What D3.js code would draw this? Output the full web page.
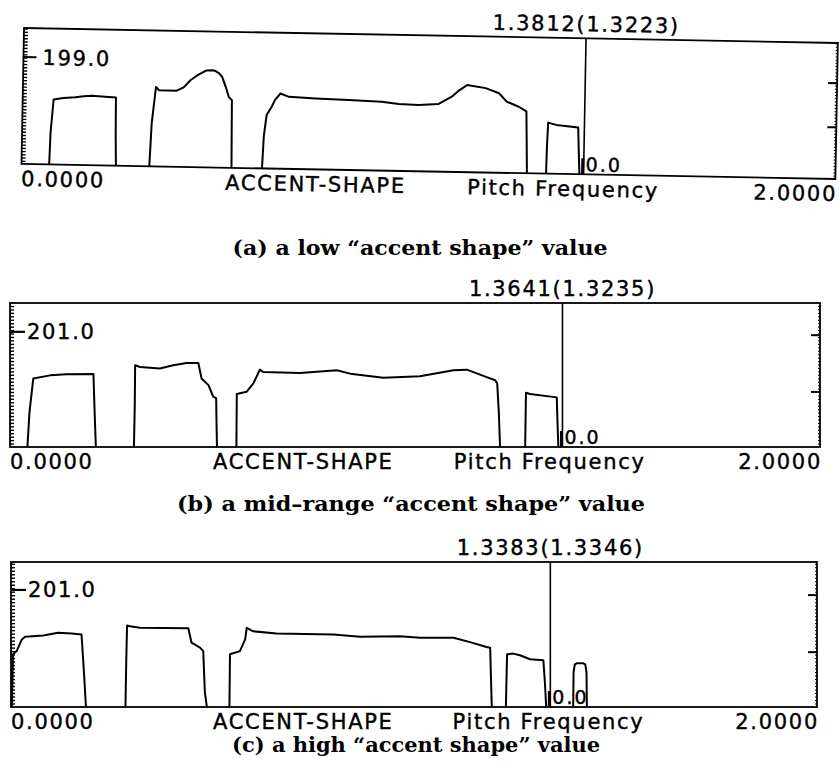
<!DOCTYPE html>
<html><head><meta charset="utf-8">
<script src="https://cdn.jsdelivr.net/npm/d3@7"></script>
<style>body{margin:0;background:#fff}</style>
</head><body><svg id="chart" width="839" height="769"></svg>
<script>
// ---------- data ----------
const xDomain = [0, 2];
const xTickLabels = ["0.0000", "2.0000"];
const axisTitles = ["ACCENT-SHAPE", "Pitch Frequency"];
const captions = [
  "(a) a low \u201Caccent shape\u201D value",
  "(b) a mid\u2013range \u201Caccent shape\u201D value",
  "(c) a high \u201Caccent shape\u201D value"
];
const cursorValues = [1.3812, 1.3641, 1.3383];
const cursorRefValues = [1.3223, 1.3235, 1.3346];
const yLabelValues = [199.0, 201.0, 201.0];
const yMaxValues = [253, 251.3, 249];
const rightTickValues = [[97, 179], [97, 196], [95, 193]];
const zeroLabel = "0.0";

const contourA = [
  [[0.068,0],[0.070,60],[0.076,121],[0.100,124],[0.129,126],[0.150,128],[0.170,129.5],[0.203,128],[0.229,127],[0.230,60],[0.232,0]],
  [[0.314,0],[0.318,80],[0.327,148],[0.334,142],[0.378,141.6],[0.395,148],[0.412,162],[0.430,172],[0.449,180],[0.465,181],[0.473,179.5],[0.482,175],[0.489,169],[0.498,151],[0.506,132],[0.514,126],[0.515,60],[0.516,0]],
  [[0.591,0],[0.594,60],[0.600,99.5],[0.612,115],[0.620,128],[0.633,140],[0.654,134],[0.719,132],[0.801,130],[0.882,128],[0.924,124.6],[0.973,123.5],[1.022,126],[1.054,140],[1.072,152],[1.091,162],[1.137,157],[1.170,148],[1.189,132.6],[1.219,123.5],[1.238,115],[1.240,60],[1.242,0]],
  [[1.289,0],[1.290,50],[1.292,95],[1.312,91],[1.366,87],[1.368,50],[1.371,0]]
];
const contourB = [
  [[0.043,0],[0.048,60],[0.0575,119.6],[0.099,125],[0.140,127],[0.206,127.5],[0.209,60],[0.212,0]],
  [[0.306,0],[0.308,70],[0.309,142.6],[0.321,139.7],[0.370,137],[0.403,142.6],[0.436,146.6],[0.465,146.6],[0.473,119.6],[0.490,108],[0.502,87.7],[0.509,85.4],[0.510,40],[0.511,0]],
  [[0.559,0],[0.560,92.4],[0.584,96.4],[0.601,111],[0.617,135],[0.625,131],[0.716,129],[0.807,134],[0.840,128],[0.922,121],[1.012,123.6],[1.095,134],[1.128,135],[1.177,122],[1.198,116.6],[1.203,111],[1.207,60],[1.210,0]],
  [[1.272,0],[1.274,94.6],[1.284,92.4],[1.350,86.6],[1.352,40],[1.354,0]]
];
const contourC = [
  [[0.002,0],[0.004,60],[0.005,90.5],[0.014,96],[0.027,116],[0.035,120.6],[0.080,122.8],[0.117,127.4],[0.151,126.2],[0.175,124.5],[0.181,60],[0.186,0]],
  [[0.284,0],[0.286,80],[0.288,139.8],[0.295,138.6],[0.320,135.9],[0.440,135.2],[0.448,110.4],[0.469,101.9],[0.477,96],[0.481,26],[0.486,0]],
  [[0.542,0],[0.5434,90.5],[0.568,96],[0.581,116],[0.585,135.9],[0.601,130],[0.659,126.2],[0.800,124.5],[0.866,120.6],[0.965,121.6],[1.015,118.9],[1.098,118.9],[1.139,111.4],[1.180,102.9],[1.189,101.9],[1.191,50],[1.193,0]],
  [[1.228,0],[1.231,90.5],[1.246,91.7],[1.263,88.8],[1.288,82],[1.321,80.3],[1.325,40],[1.328,0]],
  [[1.395,0],[1.396,60],[1.399,73],[1.404,75],[1.420,75],[1.425,73],[1.428,60],[1.429,0]]
];
const contours = [contourA, contourB, contourC];

// ---------- layout ----------
const layout = [
  {x:24, y:28,  w:814, h:136, rot:1.056, capX:420, capY:255, capW:375},
  {x:10, y:303, w:810, h:144, rot:0,     capX:411, capY:511, capW:468},
  {x:11, y:562, w:806, h:145, rot:0,     capX:416, capY:752, capW:368}
];
const sans = "'DejaVu Sans', sans-serif";
const svg = d3.select("#chart");

layout.forEach((L, i) => {
  const g = svg.append("g")
    .attr("transform", `translate(${L.x},${L.y}) rotate(${L.rot})`);
  const x = d3.scaleLinear().domain(xDomain).range([0, L.w]);
  const y = d3.scaleLinear().domain([0, yMaxValues[i]]).range([L.h, 0]);

  // frame
  g.append("rect").attr("width", L.w).attr("height", L.h)
    .attr("fill", "none").attr("stroke", "#000").attr("stroke-width", 1.8);

  // left minor ticks (ruler)
  const minor = d3.range(6, yMaxValues[i], 6);
  const leftAx = d3.axisRight(y).tickValues(minor).tickSize(4).tickFormat("");
  g.append("g").call(leftAx).call(s => s.select(".domain").remove())
    .selectAll("line").attr("stroke-width", 1.4);
  // right minor ticks
  const rightAx = d3.axisLeft(y).tickValues(minor).tickSize(2).tickFormat("");
  g.append("g").attr("transform", `translate(${L.w},0)`).call(rightAx)
    .call(s => s.select(".domain").remove()).selectAll("line").attr("stroke-width", 1);
  // right major ticks
  const rightMaj = d3.axisLeft(y).tickValues(rightTickValues[i]).tickSize(9).tickFormat("");
  g.append("g").attr("transform", `translate(${L.w},0)`).call(rightMaj)
    .call(s => s.select(".domain").remove()).selectAll("line").attr("stroke-width", 2);

  // labelled y tick
  const yl = y(yLabelValues[i]);
  g.append("line").attr("x1", 0).attr("x2", i === 0 ? 13 : 15)
    .attr("y1", yl).attr("y2", yl).attr("stroke", "#000").attr("stroke-width", 2.2);
  g.append("text").attr("x", i === 0 ? 19 : 17).attr("y", yl + 7.5)
    .attr("font-family", sans).attr("font-size", 21).attr("letter-spacing", 1.7)
    .attr("stroke", "#000").attr("stroke-width", 0.4)
    .text(yLabelValues[i].toFixed(1));

  // contour
  const line = d3.line().x(d => x(d[0])).y(d => y(d[1]));
  g.selectAll("path.contour").data(contours[i]).join("path")
    .attr("class", "contour").attr("d", line)
    .attr("fill", "none").attr("stroke", "#000").attr("stroke-width", 2)
    .attr("stroke-linejoin", "round");

  // cursor
  const cx = x(cursorValues[i]);
  g.append("line").attr("x1", cx).attr("x2", cx).attr("y1", 0).attr("y2", L.h)
    .attr("stroke", "#000").attr("stroke-width", 1.6);
  g.append("line").attr("x1", cx - 1).attr("x2", cx - 1).attr("y1", L.h - 16).attr("y2", L.h)
    .attr("stroke", "#000").attr("stroke-width", 3);
  g.append("text").attr("x", cx).attr("y", -7).attr("text-anchor", "middle")
    .attr("font-family", sans).attr("font-size", 21).attr("letter-spacing", 1.7)
    .attr("stroke", "#000").attr("stroke-width", 0.4)
    .text(`${cursorValues[i].toFixed(4)}(${cursorRefValues[i].toFixed(4)})`);
  g.append("text").attr("x", cx + 2).attr("y", L.h - 3)
    .attr("font-family", sans).attr("font-size", 19).attr("letter-spacing", 2)
    .attr("stroke", "#000").attr("stroke-width", 0.4)
    .text(zeroLabel);

  // bottom labels
  const by = L.h + 22;
  const lab = (tx, anchor, s) => g.append("text").attr("x", tx).attr("y", by)
    .attr("text-anchor", anchor).attr("font-family", sans).attr("font-size", 21)
    .attr("letter-spacing", 1.7).attr("stroke", "#000").attr("stroke-width", 0.4).text(s);
  lab(x(xDomain[0]), "start", xTickLabels[0]);
  lab(x(xDomain[1]) + 2, "end", xTickLabels[1]);
  lab(x(0.5012), "start", axisTitles[0]);
  lab(x(1.0958), "start", axisTitles[1]);

  // caption
  svg.append("text").attr("x", L.capX - L.capW / 2).attr("y", L.capY)
    .attr("font-family", "'DejaVu Serif', serif").attr("font-weight", "bold")
    .attr("font-size", 20).attr("textLength", L.capW).attr("lengthAdjust", "spacingAndGlyphs")
    .text(captions[i]);
});
</script>
</body></html>
